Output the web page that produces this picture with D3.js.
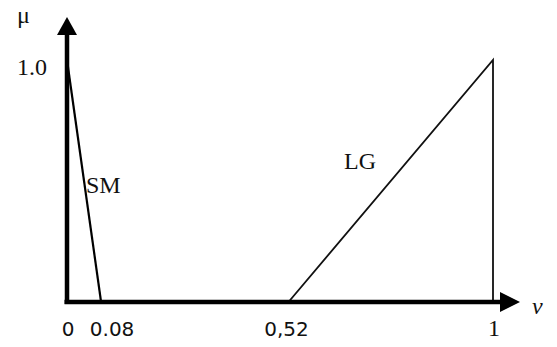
<!DOCTYPE html>
<html>
<head>
<meta charset="utf-8">
<script src="https://cdn.jsdelivr.net/npm/d3@7"></script>
<style>
  html, body { margin: 0; padding: 0; background: #fff; }
  svg { display: block; }
</style>
</head>
<body>
<svg id="chart" width="557" height="347"></svg>
<script>
// Membership functions: SM (small) and LG (large) over v in [0, 1]
const xTicks = [0, 0.08, 0.52, 1];
const xTickLabels = ["0", "0.08", "0,52", "1"];
const yTicks = [1];
const yTickLabels = ["1.0"];
const smV = [0, 0.08];
const smMu = [1, 0];
const lgV = [0.52, 1, 1];
const lgMu = [0, 1, 0];

const svg = d3.select("#chart");
const x = d3.scaleLinear().domain([0, 1]).range([67, 493]);
const y = d3.scaleLinear().domain([0, 1]).range([302, 60]);

const line = d3.line().x(d => x(d[0])).y(d => y(d[1]));
const serif = "'Liberation Serif', 'Times New Roman', serif";
const sans = "'DejaVu Sans', Verdana, sans-serif";

// SM: falls from 1 at v=0 to 0 at v=0.08
svg.append("path")
  .attr("d", line(d3.zip(smV, smMu)))
  .attr("fill", "none").attr("stroke", "#000").attr("stroke-width", 2.2);

// LG: rises from 0 at v=0.52 to 1 at v=1, then drops vertically
svg.append("path")
  .attr("d", line(d3.zip(lgV, lgMu)))
  .attr("fill", "none").attr("stroke", "#111").attr("stroke-width", 1.8)
  .attr("stroke-linejoin", "miter");

// axes with arrowheads
const x0 = x(0), y0 = y(0);
svg.append("line")
  .attr("x1", x0).attr("y1", y0 + 2).attr("x2", x0).attr("y2", 30)
  .attr("stroke", "#000").attr("stroke-width", 4.5);
svg.append("path")
  .attr("d", `M${x0},17 L${x0 - 10},35 L${x0 + 10},35 Z`)
  .attr("fill", "#000");
svg.append("line")
  .attr("x1", x0 - 2.5).attr("y1", y0).attr("x2", 505).attr("y2", y0)
  .attr("stroke", "#000").attr("stroke-width", 4.5);
svg.append("path")
  .attr("d", `M520,${y0} L500,${y0 - 10} L500,${y0 + 10} Z`)
  .attr("fill", "#000");

// x tick labels
const tickDx = [1, 11, -2, 1];
const tickFont = [sans, sans, sans, serif];
svg.selectAll("text.xt")
  .data(xTicks)
  .enter().append("text")
  .attr("class", "xt")
  .attr("x", (d, i) => x(d) + tickDx[i])
  .attr("y", 336)
  .attr("text-anchor", "middle")
  .attr("font-family", (d, i) => tickFont[i])
  .attr("font-size", (d, i) => i === 3 ? 24 : 20)
  .attr("fill", "#111")
  .text((d, i) => xTickLabels[i]);

// y tick label
svg.selectAll("text.yt")
  .data(yTicks)
  .enter().append("text")
  .attr("class", "yt")
  .attr("x", 47)
  .attr("y", d => y(d) + 15)
  .attr("text-anchor", "end")
  .attr("font-family", serif)
  .attr("font-size", 24)
  .attr("fill", "#111")
  .text((d, i) => yTickLabels[i]);

// axis titles
svg.append("text")
  .attr("x", 17).attr("y", 23)
  .attr("font-family", serif).attr("font-size", 24).attr("fill", "#111")
  .text("μ");
svg.append("text")
  .attr("x", 532).attr("y", 314)
  .attr("font-family", serif).attr("font-style", "italic")
  .attr("font-size", 24).attr("fill", "#111")
  .text("v");

// set names
svg.append("text")
  .attr("x", 86).attr("y", 193)
  .attr("font-family", serif).attr("font-size", 24).attr("fill", "#111")
  .text("SM");
svg.append("text")
  .attr("x", 344).attr("y", 169)
  .attr("font-family", serif).attr("font-size", 24).attr("fill", "#111")
  .text("LG");
</script>
</body>
</html>
